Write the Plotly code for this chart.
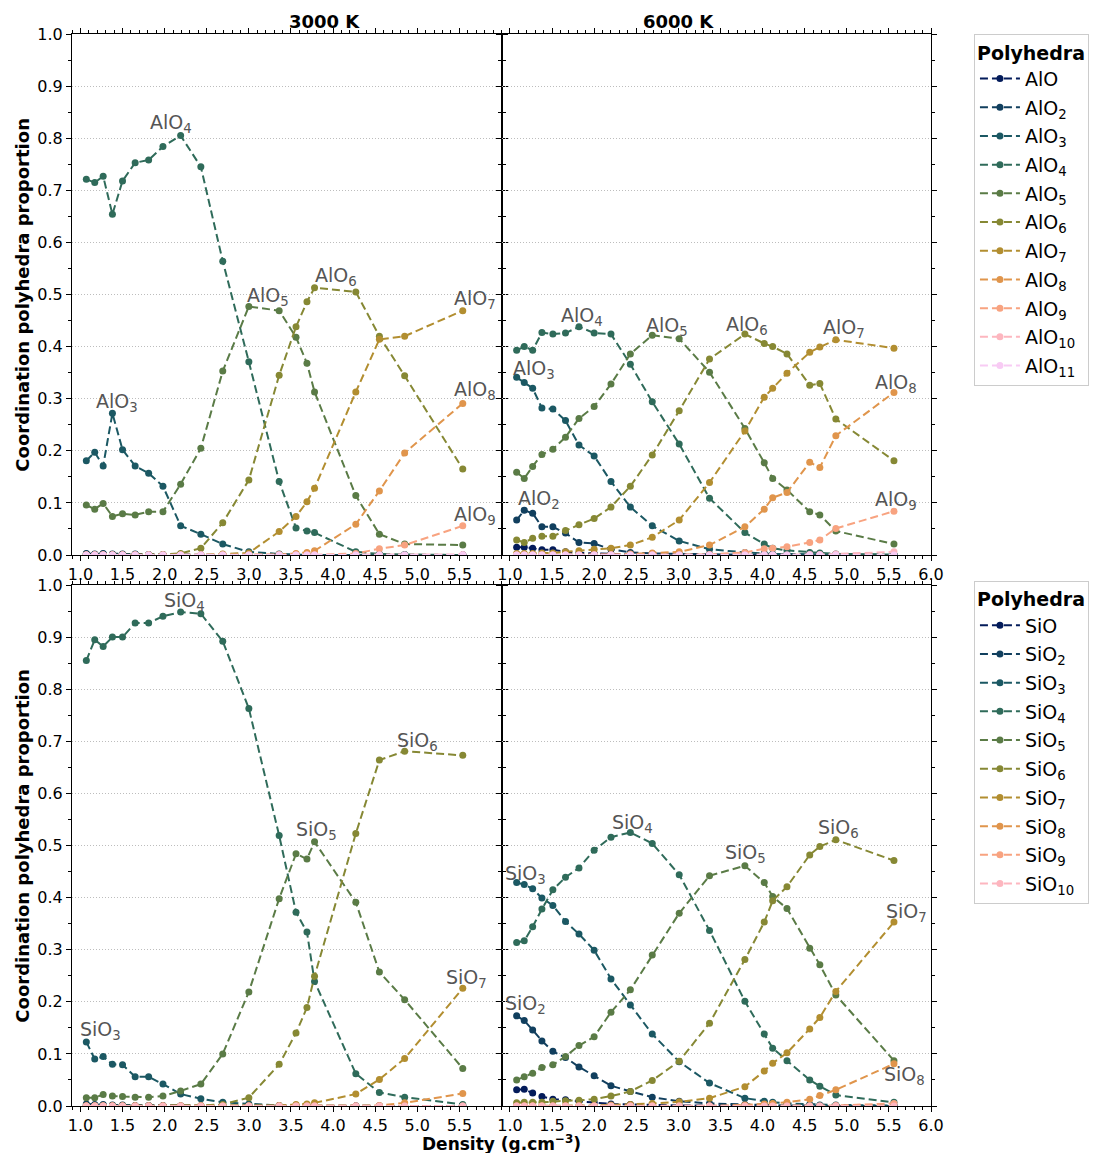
import plotly.graph_objects as go
from plotly.subplots import make_subplots

# ---------------- data ----------------
d3000 = [1.07, 1.17, 1.27, 1.38, 1.50, 1.65, 1.81, 1.98, 2.19, 2.43, 2.69, 3.00, 3.36, 3.56, 3.69, 3.78, 4.27, 4.55, 4.85, 5.54]
d6000 = [1.08, 1.17, 1.27, 1.38, 1.51, 1.66, 1.82, 2.00, 2.20, 2.43, 2.69, 3.01, 3.37, 3.79, 4.02, 4.12, 4.29, 4.56, 4.68, 4.87, 5.56]

alo_names = ["AlO", "AlO<sub>2</sub>", "AlO<sub>3</sub>", "AlO<sub>4</sub>", "AlO<sub>5</sub>", "AlO<sub>6</sub>",
             "AlO<sub>7</sub>", "AlO<sub>8</sub>", "AlO<sub>9</sub>", "AlO<sub>10</sub>", "AlO<sub>11</sub>"]
sio_names = ["SiO", "SiO<sub>2</sub>", "SiO<sub>3</sub>", "SiO<sub>4</sub>", "SiO<sub>5</sub>", "SiO<sub>6</sub>",
             "SiO<sub>7</sub>", "SiO<sub>8</sub>", "SiO<sub>9</sub>", "SiO<sub>10</sub>"]

# AlO polyhedra, 3000 K
alo1_3000 = [0.002, 0.001, 0.002, 0.001, 0.001, 0.001, 0.000, 0.000, 0.000, 0.000, 0.000, 0.000, 0.000, 0.000, 0.000, 0.000, 0.000, 0.000, 0.000, 0.000]
alo2_3000 = [0.003, 0.002, 0.003, 0.002, 0.002, 0.002, 0.001, 0.001, 0.001, 0.000, 0.000, 0.000, 0.000, 0.000, 0.000, 0.000, 0.000, 0.000, 0.000, 0.000]
alo3_3000 = [0.181, 0.197, 0.171, 0.272, 0.202, 0.171, 0.157, 0.132, 0.056, 0.040, 0.021, 0.006, 0.002, 0.001, 0.000, 0.000, 0.000, 0.000, 0.000, 0.000]
alo4_3000 = [0.721, 0.715, 0.727, 0.654, 0.718, 0.753, 0.758, 0.784, 0.805, 0.745, 0.564, 0.371, 0.141, 0.052, 0.046, 0.043, 0.006, 0.002, 0.001, 0.000]
alo5_3000 = [0.096, 0.088, 0.099, 0.074, 0.079, 0.077, 0.083, 0.083, 0.136, 0.205, 0.353, 0.477, 0.469, 0.418, 0.368, 0.313, 0.114, 0.040, 0.021, 0.019]
alo6_3000 = [0.000, 0.000, 0.000, 0.000, 0.000, 0.000, 0.000, 0.001, 0.003, 0.013, 0.062, 0.144, 0.345, 0.438, 0.486, 0.513, 0.505, 0.420, 0.344, 0.165]
alo7_3000 = [0.000, 0.000, 0.000, 0.000, 0.000, 0.000, 0.000, 0.000, 0.000, 0.000, 0.002, 0.004, 0.045, 0.074, 0.102, 0.128, 0.313, 0.414, 0.420, 0.469]
alo8_3000 = [0.000, 0.000, 0.000, 0.000, 0.000, 0.000, 0.000, 0.000, 0.000, 0.000, 0.000, 0.000, 0.001, 0.003, 0.005, 0.008, 0.059, 0.123, 0.196, 0.291]
alo9_3000 = [0.000, 0.000, 0.000, 0.000, 0.000, 0.000, 0.000, 0.000, 0.000, 0.000, 0.000, 0.000, 0.000, 0.000, 0.000, 0.000, 0.003, 0.012, 0.019, 0.056]
alo10_3000 = [0.000, 0.000, 0.000, 0.000, 0.000, 0.000, 0.000, 0.000, 0.000, 0.000, 0.000, 0.000, 0.000, 0.000, 0.000, 0.000, 0.000, 0.000, 0.000, 0.001]
alo11_3000 = [0.000, 0.000, 0.000, 0.000, 0.000, 0.000, 0.000, 0.000, 0.000, 0.000, 0.000, 0.000, 0.000, 0.000, 0.000, 0.000, 0.000, 0.000, 0.000, 0.000]

# AlO polyhedra, 6000 K
alo1_6000 = [0.015, 0.015, 0.013, 0.010, 0.010, 0.006, 0.004, 0.003, 0.002, 0.001, 0.001, 0.000, 0.000, 0.000, 0.000, 0.000, 0.000, 0.000, 0.000, 0.000, 0.000]
alo2_6000 = [0.067, 0.086, 0.080, 0.054, 0.054, 0.042, 0.024, 0.022, 0.011, 0.005, 0.003, 0.002, 0.001, 0.000, 0.000, 0.000, 0.000, 0.000, 0.000, 0.000, 0.000]
alo3_6000 = [0.341, 0.331, 0.320, 0.282, 0.280, 0.258, 0.211, 0.190, 0.141, 0.092, 0.056, 0.027, 0.011, 0.005, 0.003, 0.002, 0.002, 0.001, 0.001, 0.001, 0.000]
alo4_6000 = [0.393, 0.400, 0.393, 0.427, 0.424, 0.426, 0.438, 0.426, 0.424, 0.366, 0.294, 0.213, 0.109, 0.043, 0.021, 0.013, 0.009, 0.005, 0.004, 0.002, 0.001]
alo5_6000 = [0.159, 0.147, 0.170, 0.193, 0.203, 0.226, 0.262, 0.285, 0.328, 0.386, 0.422, 0.415, 0.351, 0.243, 0.177, 0.147, 0.125, 0.083, 0.077, 0.046, 0.021]
alo6_6000 = [0.029, 0.024, 0.032, 0.036, 0.036, 0.047, 0.058, 0.070, 0.092, 0.132, 0.192, 0.277, 0.376, 0.424, 0.406, 0.400, 0.386, 0.326, 0.329, 0.261, 0.181]
alo7_6000 = [0.003, 0.003, 0.003, 0.004, 0.004, 0.006, 0.008, 0.011, 0.013, 0.019, 0.034, 0.067, 0.139, 0.238, 0.303, 0.320, 0.349, 0.389, 0.399, 0.413, 0.397]
alo8_6000 = [0.000, 0.000, 0.000, 0.000, 0.000, 0.000, 0.000, 0.001, 0.001, 0.002, 0.004, 0.006, 0.019, 0.054, 0.088, 0.110, 0.120, 0.178, 0.168, 0.229, 0.312]
alo9_6000 = [0.000, 0.000, 0.000, 0.000, 0.000, 0.000, 0.000, 0.000, 0.000, 0.000, 0.000, 0.000, 0.001, 0.005, 0.012, 0.013, 0.016, 0.024, 0.029, 0.051, 0.084]
alo10_6000 = [0.000, 0.000, 0.000, 0.000, 0.000, 0.000, 0.000, 0.000, 0.000, 0.000, 0.000, 0.000, 0.000, 0.000, 0.000, 0.000, 0.000, 0.001, 0.001, 0.002, 0.006]
alo11_6000 = [0.000, 0.000, 0.000, 0.000, 0.000, 0.000, 0.000, 0.000, 0.000, 0.000, 0.000, 0.000, 0.000, 0.000, 0.000, 0.000, 0.000, 0.000, 0.000, 0.000, 0.000]

# SiO polyhedra, 3000 K
sio1_3000 = [0.001, 0.001, 0.001, 0.000, 0.000, 0.000, 0.000, 0.000, 0.000, 0.000, 0.000, 0.000, 0.000, 0.000, 0.000, 0.000, 0.000, 0.000, 0.000, 0.000]
sio2_3000 = [0.004, 0.003, 0.003, 0.002, 0.002, 0.001, 0.001, 0.001, 0.000, 0.000, 0.000, 0.000, 0.000, 0.000, 0.000, 0.000, 0.000, 0.000, 0.000, 0.000]
sio3_3000 = [0.123, 0.090, 0.095, 0.080, 0.079, 0.056, 0.056, 0.042, 0.023, 0.014, 0.007, 0.004, 0.001, 0.001, 0.000, 0.000, 0.000, 0.000, 0.000, 0.000]
sio4_3000 = [0.855, 0.895, 0.882, 0.900, 0.900, 0.927, 0.927, 0.940, 0.948, 0.945, 0.892, 0.763, 0.519, 0.372, 0.334, 0.239, 0.062, 0.026, 0.017, 0.003]
sio5_3000 = [0.016, 0.016, 0.022, 0.019, 0.018, 0.017, 0.017, 0.019, 0.029, 0.042, 0.100, 0.219, 0.398, 0.484, 0.474, 0.507, 0.391, 0.257, 0.204, 0.072]
sio6_3000 = [0.000, 0.000, 0.000, 0.000, 0.000, 0.000, 0.000, 0.000, 0.000, 0.001, 0.003, 0.016, 0.080, 0.140, 0.189, 0.249, 0.523, 0.664, 0.681, 0.673]
sio7_3000 = [0.000, 0.000, 0.000, 0.000, 0.000, 0.000, 0.000, 0.000, 0.000, 0.000, 0.000, 0.000, 0.001, 0.003, 0.004, 0.006, 0.023, 0.051, 0.091, 0.226]
sio8_3000 = [0.000, 0.000, 0.000, 0.000, 0.000, 0.000, 0.000, 0.000, 0.000, 0.000, 0.000, 0.000, 0.000, 0.000, 0.000, 0.000, 0.000, 0.001, 0.006, 0.024]
sio9_3000 = [0.000, 0.000, 0.000, 0.000, 0.000, 0.000, 0.000, 0.000, 0.000, 0.000, 0.000, 0.000, 0.000, 0.000, 0.000, 0.000, 0.000, 0.000, 0.000, 0.000]
sio10_3000 = [0.000, 0.000, 0.000, 0.000, 0.000, 0.000, 0.000, 0.000, 0.000, 0.000, 0.000, 0.000, 0.000, 0.000, 0.000, 0.000, 0.000, 0.000, 0.000, 0.000]

# SiO polyhedra, 6000 K
sio1_6000 = [0.031, 0.032, 0.025, 0.018, 0.013, 0.012, 0.009, 0.007, 0.004, 0.003, 0.002, 0.001, 0.001, 0.000, 0.000, 0.000, 0.000, 0.000, 0.000, 0.000, 0.000]
sio2_6000 = [0.173, 0.164, 0.146, 0.125, 0.105, 0.093, 0.075, 0.058, 0.039, 0.028, 0.017, 0.009, 0.005, 0.003, 0.002, 0.001, 0.001, 0.001, 0.000, 0.000, 0.000]
sio3_6000 = [0.429, 0.425, 0.417, 0.399, 0.385, 0.354, 0.330, 0.299, 0.244, 0.194, 0.138, 0.085, 0.044, 0.015, 0.009, 0.007, 0.005, 0.003, 0.002, 0.002, 0.001]
sio4_6000 = [0.314, 0.317, 0.344, 0.378, 0.415, 0.439, 0.457, 0.491, 0.516, 0.525, 0.504, 0.444, 0.337, 0.201, 0.138, 0.111, 0.087, 0.050, 0.038, 0.021, 0.007]
sio5_6000 = [0.050, 0.056, 0.063, 0.074, 0.079, 0.095, 0.116, 0.133, 0.180, 0.223, 0.290, 0.370, 0.442, 0.461, 0.429, 0.402, 0.379, 0.303, 0.271, 0.213, 0.087]
sio6_6000 = [0.006, 0.007, 0.007, 0.007, 0.009, 0.010, 0.011, 0.013, 0.019, 0.028, 0.049, 0.086, 0.159, 0.281, 0.353, 0.394, 0.421, 0.482, 0.498, 0.511, 0.471]
sio7_6000 = [0.000, 0.000, 0.000, 0.000, 0.000, 0.001, 0.001, 0.001, 0.002, 0.003, 0.005, 0.008, 0.015, 0.037, 0.067, 0.082, 0.102, 0.148, 0.170, 0.220, 0.353]
sio8_6000 = [0.000, 0.000, 0.000, 0.000, 0.000, 0.000, 0.000, 0.000, 0.000, 0.000, 0.000, 0.000, 0.000, 0.002, 0.004, 0.005, 0.007, 0.013, 0.020, 0.031, 0.081]
sio9_6000 = [0.000, 0.000, 0.000, 0.000, 0.000, 0.000, 0.000, 0.000, 0.000, 0.000, 0.000, 0.000, 0.000, 0.000, 0.000, 0.000, 0.000, 0.000, 0.000, 0.001, 0.005]
sio10_6000 = [0.000, 0.000, 0.000, 0.000, 0.000, 0.000, 0.000, 0.000, 0.000, 0.000, 0.000, 0.000, 0.000, 0.000, 0.000, 0.000, 0.000, 0.000, 0.000, 0.000, 0.000]

# in-plot labels: (species index, x, y)
labels_alo_3000 = [(3, 2.08, 0.829), (2, 1.43, 0.292), (4, 3.23, 0.497), (5, 4.04, 0.534), (6, 5.69, 0.491), (7, 5.69, 0.315), (8, 5.69, 0.075)]
labels_alo_6000 = [(3, 1.85, 0.457), (2, 1.28, 0.357), (1, 1.34, 0.106), (4, 2.86, 0.438), (5, 3.82, 0.441), (6, 4.97, 0.434), (7, 5.59, 0.330), (8, 5.59, 0.104)]
labels_sio_3000 = [(3, 2.23, 0.969), (4, 3.80, 0.528), (5, 5.00, 0.699), (6, 5.59, 0.244), (2, 1.24, 0.144)]
labels_sio_6000 = [(2, 1.18, 0.445), (3, 2.45, 0.543), (4, 3.80, 0.484), (5, 4.90, 0.532), (6, 5.71, 0.372), (7, 5.69, 0.058), (1, 1.18, 0.194)]

colors = ["#031b5a", "#113f5e", "#1b5863", "#2f6b5a", "#5a7b46", "#868834", "#b28e30", "#e0954c", "#f8a380", "#fdb6bf", "#f8cbf4"]

x_ticks_left = [1.0, 1.5, 2.0, 2.5, 3.0, 3.5, 4.0, 4.5, 5.0, 5.5]
x_ticks_right = [1.0, 1.5, 2.0, 2.5, 3.0, 3.5, 4.0, 4.5, 5.0, 5.5, 6.0]
y_ticks = [0.0, 0.1, 0.2, 0.3, 0.4, 0.5, 0.6, 0.7, 0.8, 0.9, 1.0]

# ---------------- figure ----------------
FONT = "DejaVu Sans"
fig = make_subplots(rows=2, cols=2, horizontal_spacing=0, vertical_spacing=30 / 1072)

panels = [
    (1, 1, d3000, [alo1_3000, alo2_3000, alo3_3000, alo4_3000, alo5_3000, alo6_3000, alo7_3000, alo8_3000, alo9_3000, alo10_3000, alo11_3000], alo_names, "legend", True, labels_alo_3000),
    (1, 2, d6000, [alo1_6000, alo2_6000, alo3_6000, alo4_6000, alo5_6000, alo6_6000, alo7_6000, alo8_6000, alo9_6000, alo10_6000, alo11_6000], alo_names, "legend", False, labels_alo_6000),
    (2, 1, d3000, [sio1_3000, sio2_3000, sio3_3000, sio4_3000, sio5_3000, sio6_3000, sio7_3000, sio8_3000, sio9_3000, sio10_3000], sio_names, "legend2", True, labels_sio_3000),
    (2, 2, d6000, [sio1_6000, sio2_6000, sio3_6000, sio4_6000, sio5_6000, sio6_6000, sio7_6000, sio8_6000, sio9_6000, sio10_6000], sio_names, "legend2", False, labels_sio_6000),
]

for r, c, xs, series, names, leg, showleg, labs in panels:
    for i, ys in enumerate(series):
        fig.add_trace(go.Scatter(
            x=xs, y=ys, mode="lines+markers", name=names[i],
            line=dict(color=colors[i], width=2, dash="8px,4px"),
            marker=dict(color=colors[i], size=7),
            legend=leg, showlegend=showleg, legendgroup=leg + str(i),
        ), row=r, col=c)
    for idx, lx, ly in labs:
        fig.add_annotation(x=lx, y=ly, text=names[idx], showarrow=False,
                           font=dict(family=FONT, size=19, color="#555555"),
                           xanchor="center", yanchor="middle", row=r, col=c)

axis_common = dict(showline=True, linecolor="black", linewidth=1, mirror="allticks",
                   ticks="outside", ticklen=5, tickwidth=1, tickcolor="black",
                   tickfont=dict(family=FONT, size=16, color="black"), zeroline=False)

for r in (1, 2):
    for c in (1, 2):
        xt = x_ticks_left if c == 1 else x_ticks_right
        fig.update_xaxes(range=[0.9, 6.0], tickvals=xt, ticktext=[f"{v:.1f}" for v in xt],
                         showgrid=False,
                         minor=dict(ticks="outside", ticklen=3, tickcolor="black", dtick=0.1, tick0=0, showgrid=False),
                         row=r, col=c, **axis_common)
        fig.update_yaxes(range=[0, 1.0], tickvals=y_ticks, ticktext=[f"{v:.1f}" for v in y_ticks],
                         showticklabels=(c == 1),
                         showgrid=True, gridcolor="#bdbdbd", griddash="1px,2px", gridwidth=1,
                         minor=dict(ticks="outside", ticklen=3, tickcolor="black", dtick=0.05, tick0=0, showgrid=False),
                         row=r, col=c, **axis_common)

# titles
fig.add_annotation(x=0.25, y=1.0, xref="paper", yref="paper", yanchor="bottom", yshift=0,
                   text="<b>3000 K</b>", showarrow=False, font=dict(family=FONT, size=18, color="black"))
fig.add_annotation(x=0.75, y=1.0, xref="paper", yref="paper", yanchor="bottom", yshift=0,
                   text="<b>6000 K</b>", showarrow=False, font=dict(family=FONT, size=18, color="black"))
for yc in (0.757, 0.243):
    fig.add_annotation(x=-0.058, y=yc, xref="paper", yref="paper", xanchor="center", yanchor="middle",
                       text="<b>Coordination polyhedra proportion</b>", textangle=-90, showarrow=False,
                       font=dict(family=FONT, size=18, color="black"))
fig.add_annotation(x=0.5, y=0, xref="paper", yref="paper", xanchor="center", yanchor="top", yshift=-24,
                   text="<b>Density (g.cm<sup>−3</sup>)</b>", showarrow=False,
                   font=dict(family=FONT, size=17, color="black"))

legend_common = dict(font=dict(family=FONT, size=19, color="black"),
                     title=dict(text="<b>Polyhedra</b>", font=dict(family=FONT, size=19, color="black")),
                     bordercolor="#cccccc", borderwidth=1, bgcolor="white",
                     xanchor="left", yanchor="top", tracegroupgap=1, itemwidth=40)

# page body adds an 8 px margin, so the figure is sized to end at the window edge
fig.update_layout(
    width=1093, height=1145,
    margin=dict(l=64, r=166, t=26, b=47),
    plot_bgcolor="white", paper_bgcolor="white",
    font=dict(family=FONT, size=16, color="black"),
    legend=dict(x=1.05, y=1.0, **legend_common),
    legend2=dict(x=1.05, y=0.49, **legend_common),
)

fig.write_html("out.html")
